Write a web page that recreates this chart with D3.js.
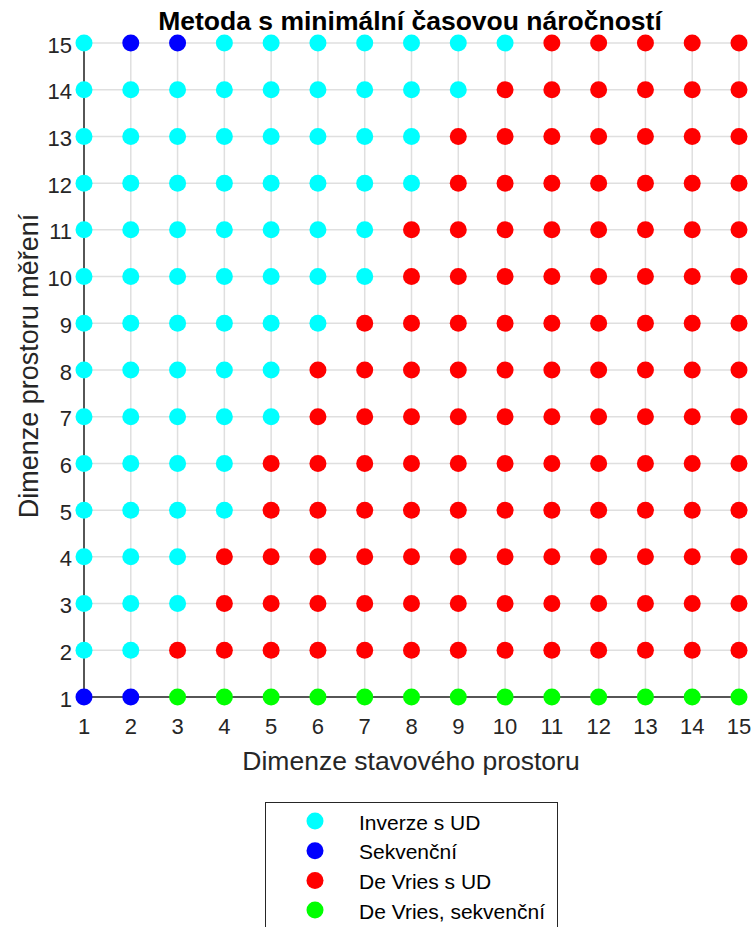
<!DOCTYPE html>
<html>
<head>
<meta charset="utf-8">
<script src="https://cdn.jsdelivr.net/npm/d3@7"></script>
<style>
  body { margin: 0; background: #fff; }
  text { font-family: "Liberation Sans", Arial, sans-serif; }
</style>
</head>
<body>
<script>
// Width and height of the whole figure
var w = 753;
var h = 927;

// data
var xTicks = [1, 2, 3, 4, 5, 6, 7, 8, 9, 10, 11, 12, 13, 14, 15];
var yTicks = [1, 2, 3, 4, 5, 6, 7, 8, 9, 10, 11, 12, 13, 14, 15];
var methods = ["Inverze s UD", "Sekvenční", "De Vries s UD", "De Vries, sekvenční"];
var colors = ["#00ffff", "#0000ff", "#ff0000", "#00ff00"];

// index of the fastest method, one row per y (1..15), values along x (1..15)
var best = [
    [1, 1, 3, 3, 3, 3, 3, 3, 3, 3, 3, 3, 3, 3, 3],
    [0, 0, 2, 2, 2, 2, 2, 2, 2, 2, 2, 2, 2, 2, 2],
    [0, 0, 0, 2, 2, 2, 2, 2, 2, 2, 2, 2, 2, 2, 2],
    [0, 0, 0, 2, 2, 2, 2, 2, 2, 2, 2, 2, 2, 2, 2],
    [0, 0, 0, 0, 2, 2, 2, 2, 2, 2, 2, 2, 2, 2, 2],
    [0, 0, 0, 0, 2, 2, 2, 2, 2, 2, 2, 2, 2, 2, 2],
    [0, 0, 0, 0, 0, 2, 2, 2, 2, 2, 2, 2, 2, 2, 2],
    [0, 0, 0, 0, 0, 2, 2, 2, 2, 2, 2, 2, 2, 2, 2],
    [0, 0, 0, 0, 0, 0, 2, 2, 2, 2, 2, 2, 2, 2, 2],
    [0, 0, 0, 0, 0, 0, 0, 2, 2, 2, 2, 2, 2, 2, 2],
    [0, 0, 0, 0, 0, 0, 0, 2, 2, 2, 2, 2, 2, 2, 2],
    [0, 0, 0, 0, 0, 0, 0, 0, 2, 2, 2, 2, 2, 2, 2],
    [0, 0, 0, 0, 0, 0, 0, 0, 2, 2, 2, 2, 2, 2, 2],
    [0, 0, 0, 0, 0, 0, 0, 0, 0, 2, 2, 2, 2, 2, 2],
    [0, 1, 1, 0, 0, 0, 0, 0, 0, 0, 2, 2, 2, 2, 2]
];

// flatten into points
var points = [];
best.forEach(function (row, j) {
    row.forEach(function (m, i) {
        points.push({ x: xTicks[i], y: yTicks[j], m: m });
    });
});

var xScale = d3.scaleLinear().domain([1, 15]).range([84, 739]);
var yScale = d3.scaleLinear().domain([1, 15]).range([697, 43]);

var svg = d3.select("body")
    .append("svg")
    .attr("width", w)
    .attr("height", h);

// grid
svg.append("g")
    .selectAll("line")
    .data(xTicks)
    .enter()
    .append("line")
    .attr("x1", d => xScale(d))
    .attr("x2", d => xScale(d))
    .attr("y1", yScale(15))
    .attr("y2", yScale(1))
    .attr("stroke", "#dfdfdf")
    .attr("stroke-width", 1.5);

svg.append("g")
    .selectAll("line")
    .data(yTicks)
    .enter()
    .append("line")
    .attr("x1", xScale(1))
    .attr("x2", xScale(15))
    .attr("y1", d => yScale(d))
    .attr("y2", d => yScale(d))
    .attr("stroke", "#dfdfdf")
    .attr("stroke-width", 1.5);

// axes lines
svg.append("line")
    .attr("x1", xScale(1)).attr("x2", xScale(1))
    .attr("y1", yScale(15)).attr("y2", yScale(1))
    .attr("stroke", "#262626").attr("stroke-width", 1.5);
svg.append("line")
    .attr("x1", xScale(1)).attr("x2", xScale(15))
    .attr("y1", yScale(1)).attr("y2", yScale(1))
    .attr("stroke", "#262626").attr("stroke-width", 1.5);

// tick labels
svg.append("g")
    .selectAll("text")
    .data(xTicks)
    .enter()
    .append("text")
    .text(d => d)
    .attr("x", d => xScale(d))
    .attr("y", 726)
    .attr("text-anchor", "middle")
    .attr("dominant-baseline", "central")
    .attr("font-size", "22px")
    .attr("fill", "#262626");

svg.append("g")
    .selectAll("text")
    .data(yTicks)
    .enter()
    .append("text")
    .text(d => d)
    .attr("x", 72)
    .attr("y", d => yScale(d) + 2)
    .attr("text-anchor", "end")
    .attr("dominant-baseline", "central")
    .attr("font-size", "22px")
    .attr("fill", "#262626");

// points
svg.append("g")
    .selectAll("circle")
    .data(points)
    .enter()
    .append("circle")
    .attr("cx", d => xScale(d.x))
    .attr("cy", d => yScale(d.y))
    .attr("r", 8.5)
    .attr("fill", d => colors[d.m]);

// titles
svg.append("text")
    .text("Metoda s minimální časovou náročností")
    .attr("x", 410)
    .attr("y", 30)
    .attr("text-anchor", "middle")
    .attr("font-size", "26.5px")
    .attr("font-weight", "bold")
    .attr("fill", "#000");

svg.append("text")
    .text("Dimenze stavového prostoru")
    .attr("x", 411)
    .attr("y", 770)
    .attr("text-anchor", "middle")
    .attr("font-size", "26.5px")
    .attr("fill", "#262626");

svg.append("text")
    .text("Dimenze prostoru měření")
    .attr("transform", "translate(38," + 366 + ") rotate(-90)")
    .attr("text-anchor", "middle")
    .attr("font-size", "27px")
    .attr("fill", "#262626");

// legend
var legend = svg.append("g");
legend.append("rect")
    .attr("x", 265.5)
    .attr("y", 802.5)
    .attr("width", 292)
    .attr("height", 140)
    .attr("fill", "#fff")
    .attr("stroke", "#262626")
    .attr("stroke-width", 1);

var items = legend.selectAll("g.item")
    .data(methods)
    .enter()
    .append("g")
    .attr("class", "item")
    .attr("transform", (d, i) => "translate(0," + (821 + i * 29.7) + ")");

items.append("circle")
    .attr("cx", 315)
    .attr("cy", 0)
    .attr("r", 8.5)
    .attr("fill", (d, i) => colors[i]);

items.append("text")
    .text(d => d)
    .attr("x", 359)
    .attr("y", 1)
    .attr("dominant-baseline", "central")
    .attr("font-size", "21px")
    .attr("fill", "#000");
</script>
</body>
</html>
